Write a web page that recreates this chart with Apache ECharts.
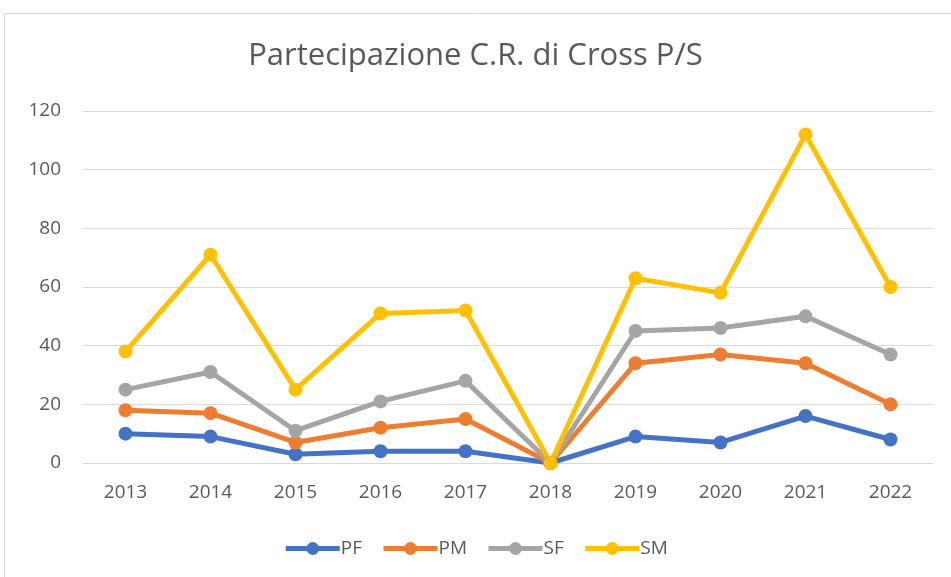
<!DOCTYPE html>
<html>
<head>
<meta charset="utf-8">
<title>Partecipazione C.R. di Cross P/S</title>
<script src="https://cdn.jsdelivr.net/npm/echarts@6/dist/echarts.min.js"></script>
<style>
  html, body { margin: 0; padding: 0; background: #fff; }
  #main { width: 951px; height: 577px; }
</style>
</head>
<body>
<div id="main"></div>
<script>
// data
const years = ['2013', '2014', '2015', '2016', '2017', '2018', '2019', '2020', '2021', '2022'];
const pf = [10, 9, 3, 4, 4, 0, 9, 7, 16, 8];
const pm = [18, 17, 7, 12, 15, 0, 34, 37, 34, 20];
const sf = [25, 31, 11, 21, 28, 0, 45, 46, 50, 37];
const sm = [38, 71, 25, 51, 52, 0, 63, 58, 112, 60];

const font = '"Open Sans", "Noto Sans", sans-serif';

function line(name, data, color) {
  return {
    name: name,
    type: 'line',
    data: data,
    symbol: 'circle',
    symbolSize: 14,
    lineStyle: { width: 5, color: color },
    itemStyle: { color: color },
    emphasis: { disabled: true }
  };
}

let myChart = echarts.init(document.getElementById('main'));
let option = {
  animation: false,
  backgroundColor: '#fff',
  textStyle: { fontFamily: font },
  graphic: [{
    type: 'rect',
    shape: { x: 4.5, y: 13.5, width: 1000, height: 700 },
    style: { fill: null, stroke: '#d9d9d9', lineWidth: 1 },
    silent: true
  }],
  title: {
    text: 'Partecipazione C.R. di Cross P/S',
    left: 'center',
    top: 36,
    textStyle: { fontFamily: font, fontSize: 31, fontWeight: 'normal', color: '#595959' }
  },
  legend: {
    bottom: 14,
    left: 'center',
    itemWidth: 54,
    itemHeight: 16,
    itemGap: 19,
    lineStyle: { width: 5 },
    textStyle: { fontFamily: font, fontSize: 19, color: '#595959', padding: [0, 0, 0, -4] },
    data: ['PF', 'PM', 'SF', 'SM']
  },
  grid: { left: 83, right: 18, top: 111, bottom: 114, containLabel: false },
  xAxis: {
    type: 'category',
    data: years,
    boundaryGap: true,
    axisLine: { show: true, lineStyle: { color: '#d9d9d9', width: 1 } },
    axisTick: { show: false },
    axisLabel: { fontFamily: font, fontSize: 19, color: '#595959', margin: 20 }
  },
  yAxis: {
    type: 'value',
    min: 0,
    max: 120,
    interval: 20,
    axisLine: { show: false },
    axisTick: { show: false },
    axisLabel: { fontFamily: font, fontSize: 19, color: '#595959', margin: 22 },
    splitLine: { lineStyle: { color: '#d9d9d9', width: 1 } }
  },
  series: [
    line('PF', pf, '#4472C4'),
    line('PM', pm, '#ED7D31'),
    line('SF', sf, '#A5A5A5'),
    line('SM', sm, '#FFC000')
  ]
};
myChart.setOption(option);
</script>
</body>
</html>
